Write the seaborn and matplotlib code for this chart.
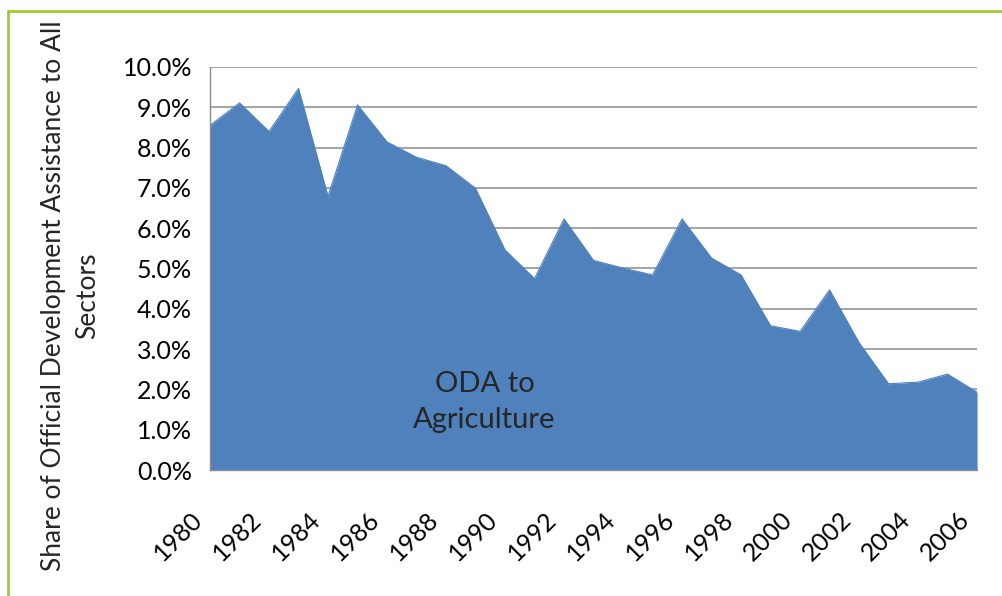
import numpy as np
import pandas as pd
import seaborn as sns
import matplotlib.pyplot as plt
from matplotlib.lines import Line2D
from matplotlib.ticker import FuncFormatter
from matplotlib.transforms import ScaledTranslation

# -------- data --------
years = list(range(1980, 2007))
oda_share = [8.55, 9.11, 8.40, 9.47, 6.79, 9.06, 8.14, 7.76, 7.55, 6.99,
             5.46, 4.75, 6.23, 5.20, 5.01, 4.84, 6.23, 5.26, 4.84, 3.58,
             3.44, 4.47, 3.16, 2.14, 2.18, 2.38, 1.93]
year_labels = [str(y) if y % 2 == 0 else "" for y in years]
area_label = "ODA to\nAgriculture"
y_title = "Share of Official Development Assistance to All\nSectors"

df = pd.DataFrame({"year": years, "share": oda_share})

# -------- style --------
sns.set_style("white")
plt.rcParams["font.family"] = ["Lato", "DejaVu Sans"]

blue = "#4F81BD"
grid_gray = "#A6A6A6"
axis_gray = "#8C8C8C"

fig = plt.figure(figsize=(10.02, 5.96), dpi=100)
ax = fig.add_axes([0.2096, 0.2114, 0.7655, 0.6762])

# -------- area --------
ax.fill_between(df["year"], df["share"], 0, color=blue, linewidth=0, zorder=2)
sns.lineplot(data=df, x="year", y="share", ax=ax, color=blue, linewidth=0.8, zorder=3)

ax.set_xlim(years[0], years[-1])
ax.set_ylim(0, 10)
ax.set_yticks(np.arange(0, 10.5, 1))
ax.yaxis.set_major_formatter(FuncFormatter(lambda v, _: f"{v:.1f}%"))
ax.set_xticks(years)

ax.grid(axis="y", color=grid_gray, linewidth=1.5, zorder=1)
ax.set_axisbelow(True)
for side in ["top", "right"]:
    ax.spines[side].set_visible(False)
for side in ["left", "bottom"]:
    ax.spines[side].set_color(axis_gray)
    ax.spines[side].set_linewidth(1.0)
    ax.spines[side].set_zorder(4)

ax.tick_params(axis="both", which="both", direction="out", length=5,
               width=1, color=axis_gray, labelcolor="black")
ax.tick_params(axis="y", pad=8, labelsize=18)
ax.tick_params(axis="x", pad=28, labelsize=18)

# rotated year labels, nudged left like the original
ax.set_xticklabels(year_labels, rotation=45, ha="right", va="center",
                   rotation_mode="anchor")
shift = ScaledTranslation(-11 / 100, 0, fig.dpi_scale_trans)
for tick in ax.xaxis.get_major_ticks():
    tick.label1.set_transform(tick.label1.get_transform() + shift)

ax.set_xlabel("")
ax.set_ylabel(y_title, fontsize=19, linespacing=1.45)
ax.yaxis.set_label_coords(-0.143, 0.432)

ax.text(1989.3, 1.69, area_label, ha="center", va="center",
        fontsize=21, linespacing=1.5, zorder=5)

# -------- green chart frame (left and top edges visible) --------
frame = "#9ACD32"
fig.add_artist(Line2D([8 / 1002, 8 / 1002], [0, 1 - 11 / 596],
                      transform=fig.transFigure, color=frame, linewidth=2))
fig.add_artist(Line2D([8 / 1002, 1], [1 - 11 / 596, 1 - 11 / 596],
                      transform=fig.transFigure, color=frame, linewidth=2))

fig.savefig("out.png", dpi=100)
